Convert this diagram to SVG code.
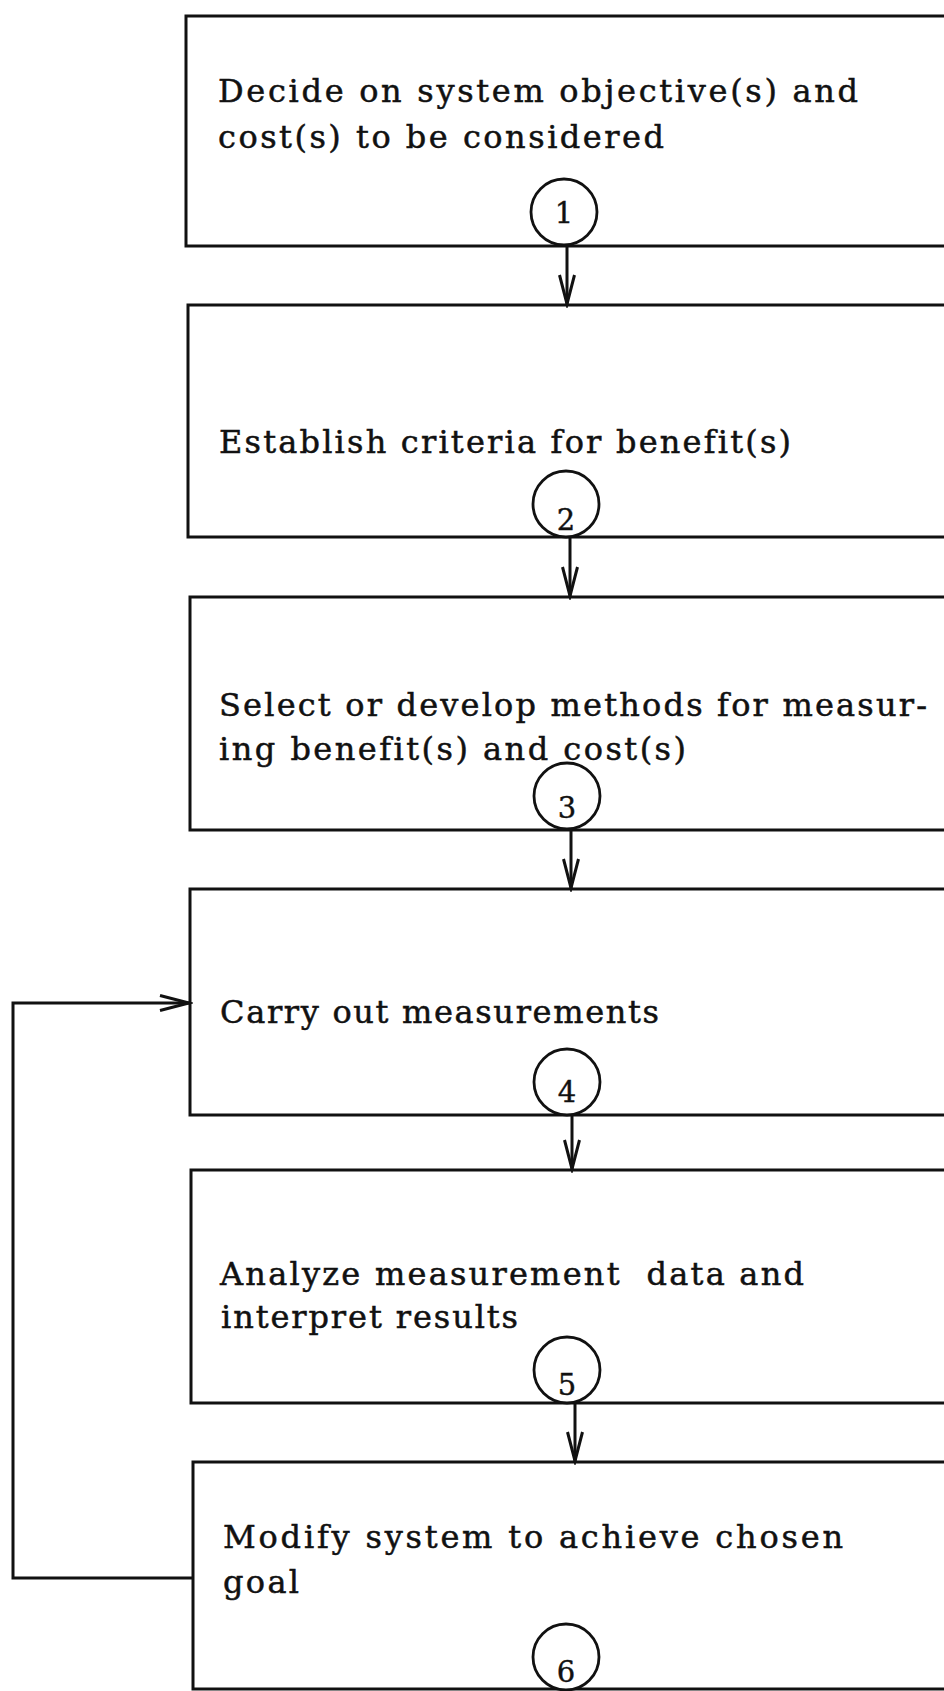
<svg xmlns="http://www.w3.org/2000/svg" width="944" height="1691" viewBox="0 0 944 1691">
<style>
.box{fill:none;stroke:#111;stroke-width:3}
.circ{fill:#fff;stroke:#111;stroke-width:2.8}
.t{font-family:"DejaVu Serif","Liberation Serif",serif;font-size:32px;fill:#111;stroke:#111;stroke-width:0.5;font-variant-ligatures:none}
.n{font-family:"DejaVu Serif","Liberation Serif",serif;font-size:29px;fill:#111;stroke:#111;stroke-width:0.4;text-anchor:middle}
.con{fill:none;stroke:#111;stroke-width:3}
</style>
<defs>
<marker id="arr" markerUnits="userSpaceOnUse" markerWidth="34" markerHeight="20" refX="30" refY="10" orient="auto">
<path d="M1,2.5 L30,10 L1,17.5" fill="none" stroke="#111" stroke-width="3"/>
</marker>
</defs>
<rect width="944" height="1691" fill="#fff"/>
<g id="node1">
<rect class="box" x="186" y="16" width="780" height="230"/>
<text class="t" x="218" y="102" textLength="640" lengthAdjust="spacing">Decide on system objective(s) and</text>
<text class="t" x="218" y="148" textLength="446" lengthAdjust="spacing">cost(s) to be considered</text>
<circle class="circ" cx="564" cy="212" r="33"/>
<text class="n" x="564" y="223">1</text>
</g>
<g id="node2">
<rect class="box" x="188" y="305" width="780" height="232"/>
<text class="t" x="219" y="453" textLength="572" lengthAdjust="spacing">Establish criteria for benefit(s)</text>
<circle class="circ" cx="566" cy="504" r="33"/>
<text class="n" x="566" y="530">2</text>
</g>
<g id="node3">
<rect class="box" x="190" y="597" width="780" height="233"/>
<text class="t" x="219" y="716" textLength="708" lengthAdjust="spacing">Select or develop methods for measur-</text>
<text class="t" x="219" y="760" textLength="467" lengthAdjust="spacing">ing benefit(s) and cost(s)</text>
<circle class="circ" cx="567" cy="796" r="33"/>
<text class="n" x="567" y="818">3</text>
</g>
<g id="node4">
<rect class="box" x="190" y="889" width="780" height="226"/>
<text class="t" x="220" y="1023" textLength="439" lengthAdjust="spacing">Carry out measurements</text>
<circle class="circ" cx="567" cy="1082" r="33"/>
<text class="n" x="567" y="1102">4</text>
</g>
<g id="node5">
<rect class="box" x="191" y="1170" width="780" height="233"/>
<text class="t" x="220" y="1285" textLength="584" lengthAdjust="spacing" xml:space="preserve">Analyze measurement  data and</text>
<text class="t" x="221" y="1328" textLength="297" lengthAdjust="spacing">interpret results</text>
<circle class="circ" cx="567" cy="1370" r="33"/>
<text class="n" x="567" y="1395">5</text>
</g>
<g id="node6">
<rect class="box" x="193" y="1462" width="780" height="227"/>
<text class="t" x="223" y="1548" textLength="620" lengthAdjust="spacing">Modify system to achieve chosen</text>
<text class="t" x="223" y="1593" textLength="76" lengthAdjust="spacing">goal</text>
<circle class="circ" cx="566" cy="1657" r="33"/>
<text class="n" x="566" y="1682">6</text>
</g>
<g id="connectors">
<path class="con" d="M567,246 V304" marker-end="url(#arr)"/>
<path class="con" d="M570,537 V596" marker-end="url(#arr)"/>
<path class="con" d="M571,830 V888" marker-end="url(#arr)"/>
<path class="con" d="M572,1115 V1169" marker-end="url(#arr)"/>
<path class="con" d="M575,1403 V1461" marker-end="url(#arr)"/>
<path class="con" d="M193,1578 H13 V1003 H189" marker-end="url(#arr)"/>
</g>
</svg>
